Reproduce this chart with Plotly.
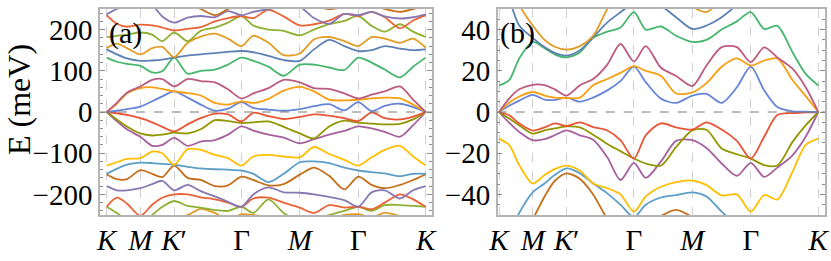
import math
import plotly.graph_objects as go

# ---------------- data ----------------
# k-path sample positions (path length units, 2*pi/a)
k_path = [0, 0.1, 0.2, 0.333, 0.45, 0.55, 0.667, 0.8, 0.93, 1.07, 1.2, 1.333, 1.45,
          1.6, 1.75, 1.91, 2.05, 2.2, 2.35, 2.488, 2.62, 2.75, 2.9, 3.03, 3.155]

# high-symmetry point labels
hs_labels = ["<i>K</i>", "<i>M</i>", "<i>K</i>′", "Γ", "<i>M</i>", "Γ", "<i>K</i>"]

# panel (a) bands, meV (band index: values)
a_band02 = [-262, -270, -275, -275, -270, -262, -255, -250, -235, -245, -262, -248, -250, -255, -265, -280, -275, -262, -250, -248, -255, -245, -252, -258, -262]
a_band03 = [-230, -245, -262, -270, -250, -230, -216, -228, -232, -238, -240, -230, -245, -212, -245, -265, -260, -250, -240, -230, -240, -226, -226, -228, -230]
a_band04 = [-230, -208, -222, -252, -225, -208, -200, -200, -207, -212, -220, -230, -210, -208, -220, -232, -245, -226, -232, -230, -236, -220, -200, -212, -230]
a_band05 = [-180, -190, -190, -185, -175, -167, -190, -177, -192, -205, -218, -230, -200, -183, -195, -196, -200, -206, -214, -230, -195, -190, -210, -190, -180]
a_band06 = [-151, -163, -163, -141, -150, -158, -130, -160, -165, -180, -178, -157, -165, -178, -175, -152, -135, -155, -188, -157, -177, -185, -177, -165, -151]
a_band07 = [-150, -138, -128, -123, -124, -126, -128, -133, -137, -139, -140, -142, -150, -170, -150, -122, -120, -124, -135, -142, -146, -149, -156, -150, -150]
a_band08 = [-130, -122, -114, -112, -96, -100, -128, -90, -92, -104, -112, -130, -108, -104, -108, -110, -85, -102, -116, -130, -110, -92, -82, -108, -130]
a_band09 = [0, -22, -42, -60, -82, -80, -63, -82, -72, -68, -55, -35, -45, -55, -62, -76, -66, -55, -46, -35, -40, -48, -60, -32, 0]
a_band10 = [0, -18, -35, -52, -57, -55, -50, -52, -42, -20, -22, -27, -25, -23, -36, -52, -64, -35, -21, -26, -28, -30, -29, -18, 0]
a_band11 = [0, -3, -7, -15, -25, -36, -47, -30, -15, -4, -6, -23, -2, -10, -17, -12, -6, -9, -15, -22, -1, -15, -18, -11, 0]
a_band12 = [0, 3, 7, 13, 26, 38, 50, 35, 18, 3, 8, 24, 10, 6, 3, 7, 14, 19, 4, 24, 2, 15, 20, 12, 0]
a_band13 = [0, 20, 45, 58, 60, 56, 50, 46, 40, 22, 18, 26, 22, 32, 52, 61, 50, 30, 28, 30, 33, 35, 33, 18, 0]
a_band14 = [0, 22, 47, 62, 78, 80, 62, 80, 75, 72, 55, 33, 45, 58, 78, 72, 58, 56, 45, 33, 42, 50, 62, 30, 0]
a_band15 = [132, 122, 117, 112, 96, 99, 132, 93, 100, 103, 115, 132, 124, 110, 88, 115, 115, 108, 102, 132, 120, 103, 84, 110, 132]
a_band16 = [152, 140, 130, 124, 125, 127, 132, 137, 140, 143, 146, 148, 145, 136, 126, 124, 152, 175, 160, 148, 150, 160, 154, 150, 152]
a_band17 = [155, 166, 155, 140, 155, 158, 133, 168, 183, 190, 178, 160, 185, 168, 138, 142, 176, 182, 172, 160, 182, 178, 168, 178, 156]
a_band18 = [182, 185, 188, 193, 188, 172, 193, 172, 197, 205, 217, 233, 210, 200, 197, 186, 200, 213, 221, 233, 209, 195, 213, 195, 182]
a_band19 = [235, 214, 207, 212, 210, 205, 198, 202, 206, 220, 228, 233, 228, 248, 232, 210, 213, 222, 238, 233, 243, 230, 203, 222, 235]
a_band20 = [237, 250, 258, 260, 258, 232, 217, 229, 233, 230, 245, 235, 243, 250, 255, 255, 228, 214, 238, 235, 243, 232, 227, 230, 237]
a_band21 = [258, 265, 268, 272, 270, 265, 262, 262, 250, 235, 250, 265, 258, 262, 265, 268, 258, 250, 255, 262, 260, 250, 243, 250, 258]

# panel (b) bands, meV
b_band06 = [-90, -75, -62, -52, -41, -33.5, -29.8, -32.5, -40, -52, -60, -62, -56, -50.5, -47.5, -51, -56, -62, -65, -65, -62, -60, -65, -75, -90]
b_band07 = [-70, -60, -49, -39, -34.7, -30.6, -27.4, -29.8, -34.7, -39.5, -45, -51, -45, -41.5, -40.3, -39, -41, -48.4, -55, -60, -60, -58, -55, -60, -70]
b_band08 = [-12.9, -16, -25.8, -34.7, -30.6, -27.7, -26, -28.5, -34.7, -37, -40, -48.4, -41, -36.3, -34, -33.3, -35.5, -40.5, -40, -48.4, -40.3, -42.5, -29, -16, -12.9]
b_band09 = [0, -5.2, -9.7, -13.7, -13.2, -11.3, -8.9, -11.3, -13.5, -22, -33, -24.7, -32, -24, -14, -13.7, -17.5, -25, -31, -24.7, -31.5, -27, -21, -12, 0]
b_band10 = [0, -3.2, -6.5, -10.5, -8.9, -8, -7, -7.5, -11, -15.5, -19, -22.6, -25, -26, -17, -8.9, -8.6, -17.7, -20.5, -22.6, -25.8, -26, -14.5, -6.5, 0]
b_band11 = [0, -1.6, -5.6, -9, -7.5, -5.5, -6.8, -5, -7.3, -9, -13.7, -22.6, -11.3, -5.5, -7.5, -8.5, -5, -8.5, -14, -22.6, -12, -1.5, -0.5, -0.2, 0]
b_band12 = [0, 3, 5.5, 8.3, 6, 5.8, 7, 5, 7, 10.5, 15, 22, 14.5, 6.5, 4.4, 8, 8.8, 4.4, 12, 22, 10.5, 2.4, 0.3, 0.2, 0]
b_band13 = [0, 4.5, 7.5, 9.7, 8, 7, 6.8, 7, 13, 16, 19, 22.3, 20, 17.5, 9, 9.5, 14, 22, 26, 22.5, 25, 26, 15.5, 7.7, 0]
b_band14 = [0, 6.5, 11, 13.2, 13, 11, 8, 13, 16, 23, 33, 24.5, 32, 21.5, 17.5, 12.6, 22.6, 31.5, 31.5, 24.2, 31.4, 26.5, 21, 12, 0]
b_band15 = [12.9, 15.5, 26, 34, 31, 28, 26.5, 29, 36, 39, 41, 48.5, 40, 41.5, 37, 34, 35, 40, 44, 48.5, 40.3, 41.8, 29, 18.5, 12.9]
b_band16 = [70, 55, 42, 36, 31.5, 28.7, 27.4, 30, 36.3, 43.5, 48.4, 53, 54, 51.5, 46, 40.3, 42, 46, 52, 58, 62, 62, 65, 68, 70]
b_band17 = [75, 65, 52, 42, 35, 31.7, 30.3, 32, 37, 50, 60, 70, 65, 60, 55, 51, 48.5, 55, 65, 72, 72, 75, 78, 80, 80]

# Mathematica default colour cycle (by band index)
palette = ["#5E81B5", "#E19C24", "#8FB032", "#EB6235", "#8778B3", "#C56E1A", "#5D9EC7",
           "#FFBF00", "#A5609D", "#929600", "#E95536", "#6685D9", "#F89F13", "#BC5B80", "#47B66D"]

a_bands = {2: a_band02, 3: a_band03, 4: a_band04, 5: a_band05, 6: a_band06, 7: a_band07,
           8: a_band08, 9: a_band09, 10: a_band10, 11: a_band11, 12: a_band12, 13: a_band13,
           14: a_band14, 15: a_band15, 16: a_band16, 17: a_band17, 18: a_band18, 19: a_band19,
           20: a_band20, 21: a_band21}
b_bands = {6: b_band06, 7: b_band07, 8: b_band08, 9: b_band09, 10: b_band10, 11: b_band11,
           12: b_band12, 13: b_band13, 14: b_band14, 15: b_band15, 16: b_band16, 17: b_band17}

# high-symmetry positions along the path
r3 = math.sqrt(3)
hs_pos = [0, 1/3, 2/3, 4/3, 4/3 + 1/r3, 4/3 + 2/r3, 2 + 2/r3]

# ---------------- figure ----------------
fig = go.Figure()

def color_of(idx):
    return palette[(idx - 1) % 15]

for idx, vals in a_bands.items():
    fig.add_trace(go.Scatter(x=k_path, y=vals, mode="lines", xaxis="x", yaxis="y",
                             line=dict(color=color_of(idx), width=1.8, shape="spline", smoothing=0.8),
                             showlegend=False, hoverinfo="skip"))
for idx, vals in b_bands.items():
    fig.add_trace(go.Scatter(x=k_path, y=vals, mode="lines", xaxis="x2", yaxis="y2",
                             line=dict(color=color_of(idx), width=1.8, shape="spline", smoothing=0.8),
                             showlegend=False, hoverinfo="skip"))

W, H = 831, 261
ml, mr, mt, mb = 100, 6, 9, 46
pw = W - ml - mr
ph = H - mt - mb

serif = "Liberation Serif"
frame_col = "#b4b4b4"
tick_col = "#8c8c8c"

xcommon = dict(tickvals=hs_pos, ticktext=hs_labels, showgrid=True, gridcolor="#d0d0d0",
               griddash="dash", gridwidth=1, showline=True, linecolor=frame_col, linewidth=1.5,
               mirror=True, ticks="", zeroline=False, automargin=False, ticklabelstandoff=-2,
               tickfont=dict(family=serif, size=29, color="black"))

def ycommon(tv, dminor):
    return dict(tickvals=tv, ticktext=[("−" + str(abs(v))) if v < 0 else str(v) for v in tv],
                showgrid=False, zeroline=False, showline=True, linecolor=frame_col,
                linewidth=1.5, mirror="allticks", ticks="inside", ticklen=5, tickwidth=1,
                tickcolor=tick_col, automargin=False,
                minor=dict(ticks="inside", ticklen=3, dtick=dminor, tickcolor=tick_col, tickwidth=1),
                tickfont=dict(family=serif, size=29, color="black"))

a_right = 332 / pw
b_left = (497.7 - ml) / pw

fig.update_layout(
    width=W, height=H, margin=dict(l=ml, r=mr, t=mt, b=mb, autoexpand=False),
    paper_bgcolor="white", plot_bgcolor="white",
    xaxis=dict(domain=[0, a_right], range=[-0.066, 3.217], anchor="y", **xcommon),
    yaxis=dict(domain=[0, 1], range=[-250, 250], anchor="x", **ycommon([-200, -100, 0, 100, 200], 20)),
    xaxis2=dict(domain=[b_left, 1], range=[-0.013, 3.221], anchor="y2", **xcommon),
    yaxis2=dict(domain=[0, 1], range=[-50, 50], anchor="x2", **ycommon([-40, -20, 0, 20, 40], 5)),
)

# dashed zero lines
for xr, yr in (("x domain", "y"), ("x2 domain", "y2")):
    fig.add_shape(type="line", xref=xr, yref=yr, x0=0, x1=1, y0=0, y1=0,
                  line=dict(color="#7a7a7a", width=1, dash="dash"), layer="above")

# panel labels
fig.add_annotation(text="(a)", xref="paper", yref="paper", x=(107 - ml) / pw,
                   y=1 - (32.5 - mt) / ph, xanchor="left", yanchor="middle", showarrow=False,
                   font=dict(family=serif, size=30, color="black"))
fig.add_annotation(text="(b)", xref="paper", yref="paper", x=(498 - ml) / pw,
                   y=1 - (32.5 - mt) / ph, xanchor="left", yanchor="middle", showarrow=False,
                   font=dict(family=serif, size=30, color="black"))
# y-axis title
fig.add_annotation(text="E (meV)", xref="paper", yref="paper", x=(19 - ml) / pw,
                   y=1 - (100 - mt) / ph, xanchor="center", yanchor="middle", textangle=-90,
                   showarrow=False, font=dict(family=serif, size=32, color="black"))

fig.write_html("out.html", config={"displayModeBar": False},
               post_script="document.body.style.margin='0px';document.body.style.overflow='hidden';")
